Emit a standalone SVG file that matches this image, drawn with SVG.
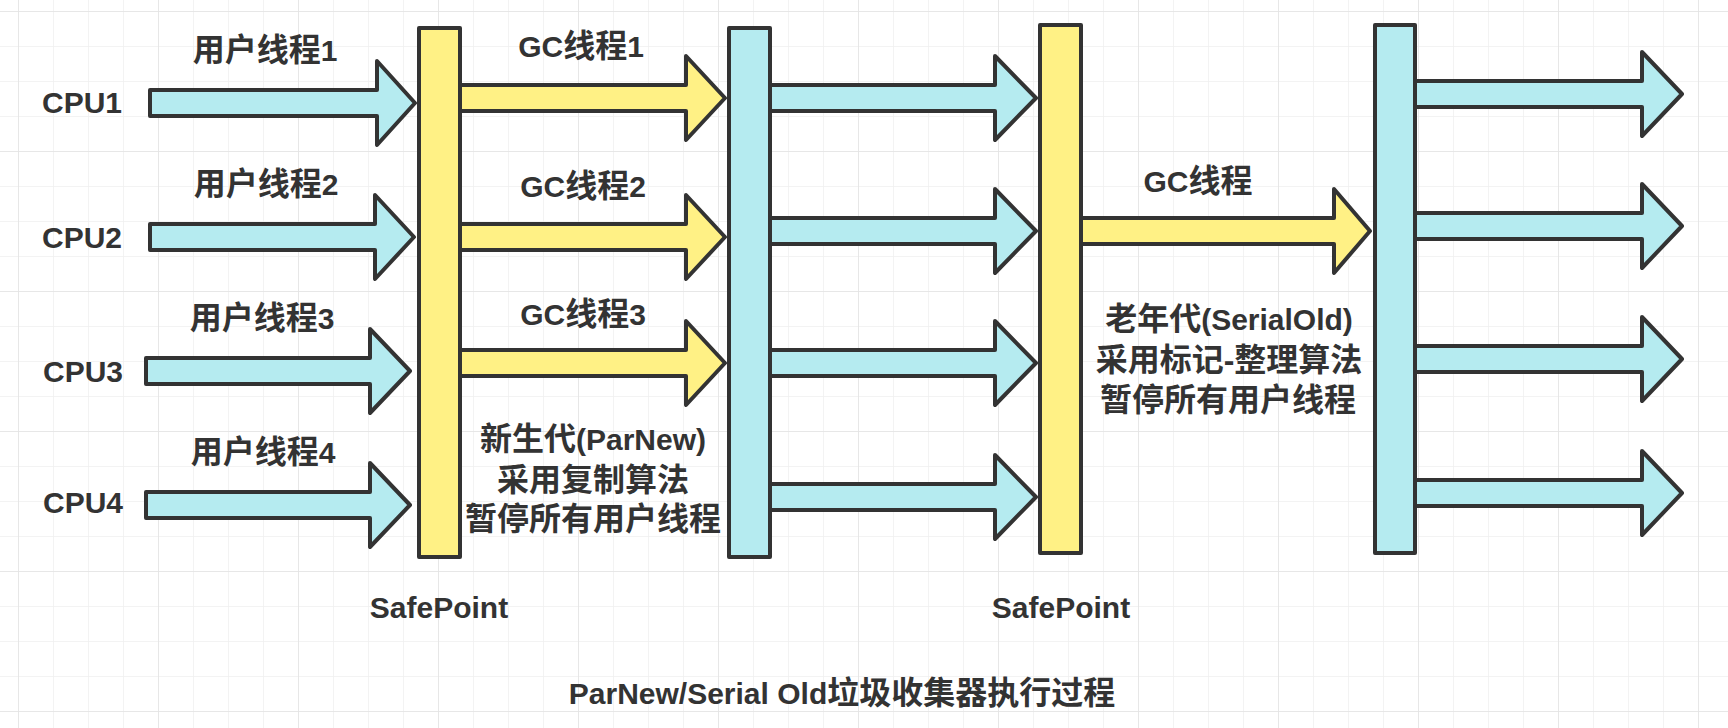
<svg xmlns="http://www.w3.org/2000/svg" width="1728" height="728" viewBox="0 0 1728 728">
<defs>
<pattern id="gMinor" x="18" y="11" width="35" height="35" patternUnits="userSpaceOnUse">
<path d="M0 0 V35 M0 0 H35" fill="none" stroke="#efefef" stroke-width="1.5"/>
</pattern>
<pattern id="gMajor" x="18" y="11" width="140" height="140" patternUnits="userSpaceOnUse">
<path d="M0 0 V140 M0 0 H140" fill="none" stroke="#e4e4e4" stroke-width="1.5"/>
</pattern>
</defs>
<style>
.lbl{font-family:"Liberation Sans","Noto Sans CJK SC",sans-serif;font-weight:bold;font-size:30px;fill:#333;text-anchor:middle}
.c{font-size:32px}
.arr{stroke:#333;stroke-width:4;stroke-linejoin:round}
.cy{fill:#b5ebf0}
.ye{fill:#fff185}
.bar{stroke:#333;stroke-width:4;stroke-linejoin:round}
</style>
<rect width="1728" height="728" fill="#ffffff"/>
<rect width="1728" height="728" fill="url(#gMinor)"/>
<rect width="1728" height="728" fill="url(#gMajor)"/>

<g id="connectors">
<path class="arr cy" d="M150 90 H377 V61 L415 103 L377 145 V116 H150 Z"/>
<path class="arr cy" d="M150 224 H375 V195 L414 237 L375 279 V250 H150 Z"/>
<path class="arr cy" d="M146 358 H370 V329 L410 371 L370 413 V384 H146 Z"/>
<path class="arr cy" d="M146 492 H370 V463 L410 505 L370 547 V518 H146 Z"/>
<path class="arr ye" d="M458 85 H686 V56 L725 98 L686 140 V111 H458 Z"/>
<path class="arr ye" d="M458 224 H686 V195 L725 237 L686 279 V250 H458 Z"/>
<path class="arr ye" d="M458 350 H686 V321 L725 363 L686 405 V376 H458 Z"/>
<path class="arr cy" d="M768 85 H995 V56 L1036 98 L995 140 V111 H768 Z"/>
<path class="arr cy" d="M768 218 H995 V189 L1036 231 L995 273 V244 H768 Z"/>
<path class="arr cy" d="M768 350 H995 V321 L1036 363 L995 405 V376 H768 Z"/>
<path class="arr cy" d="M768 484 H995 V455 L1036 497 L995 539 V510 H768 Z"/>
<path class="arr ye" d="M1079 218 H1334 V189 L1370 231 L1334 273 V244 H1079 Z"/>
<path class="arr cy" d="M1413 81 H1642 V52 L1682 94 L1642 136 V107 H1413 Z"/>
<path class="arr cy" d="M1413 213 H1642 V184 L1682 226 L1642 268 V239 H1413 Z"/>
<path class="arr cy" d="M1413 346 H1642 V317 L1682 359 L1642 401 V372 H1413 Z"/>
<path class="arr cy" d="M1413 480 H1642 V451 L1682 493 L1642 535 V506 H1413 Z"/>
</g>

<g id="safepoint1"><rect class="bar ye" x="419" y="28" width="41" height="529"/></g>
<g id="gcend1"><rect class="bar cy" x="729" y="28" width="41" height="529"/></g>
<g id="safepoint2"><rect class="bar ye" x="1040" y="25" width="41" height="528"/></g>
<g id="gcend2"><rect class="bar cy" x="1375" y="25" width="40" height="528"/></g>

<g id="labels">
<text class="lbl" x="82" y="113">CPU1</text>
<text class="lbl" x="82" y="248">CPU2</text>
<text class="lbl" x="83" y="382">CPU3</text>
<text class="lbl" x="83" y="513">CPU4</text>
<text class="lbl" x="265" y="61"><tspan class="c">用户线程</tspan>1</text>
<text class="lbl" x="266" y="195"><tspan class="c">用户线程</tspan>2</text>
<text class="lbl" x="262" y="329"><tspan class="c">用户线程</tspan>3</text>
<text class="lbl" x="263" y="463"><tspan class="c">用户线程</tspan>4</text>
<text class="lbl" x="581" y="57">GC<tspan class="c">线程</tspan>1</text>
<text class="lbl" x="583" y="197">GC<tspan class="c">线程</tspan>2</text>
<text class="lbl" x="583" y="325">GC<tspan class="c">线程</tspan>3</text>
<text class="lbl" x="593" y="450"><tspan class="c">新生代</tspan>(ParNew)</text>
<text class="lbl c" x="593" y="491">采用复制算法</text>
<text class="lbl c" x="593" y="530">暂停所有用户线程</text>
<text class="lbl" x="1198" y="192">GC<tspan class="c">线程</tspan></text>
<text class="lbl" x="1229" y="330"><tspan class="c">老年代</tspan>(SerialOld)</text>
<text class="lbl c" x="1229" y="371">采用标记-整理算法</text>
<text class="lbl c" x="1228" y="411">暂停所有用户线程</text>
<text class="lbl" x="439" y="618">SafePoint</text>
<text class="lbl" x="1061" y="618">SafePoint</text>
<text class="lbl" x="842" y="704">ParNew/Serial Old<tspan class="c">垃圾收集器执行过程</tspan></text>
</g>
</svg>
